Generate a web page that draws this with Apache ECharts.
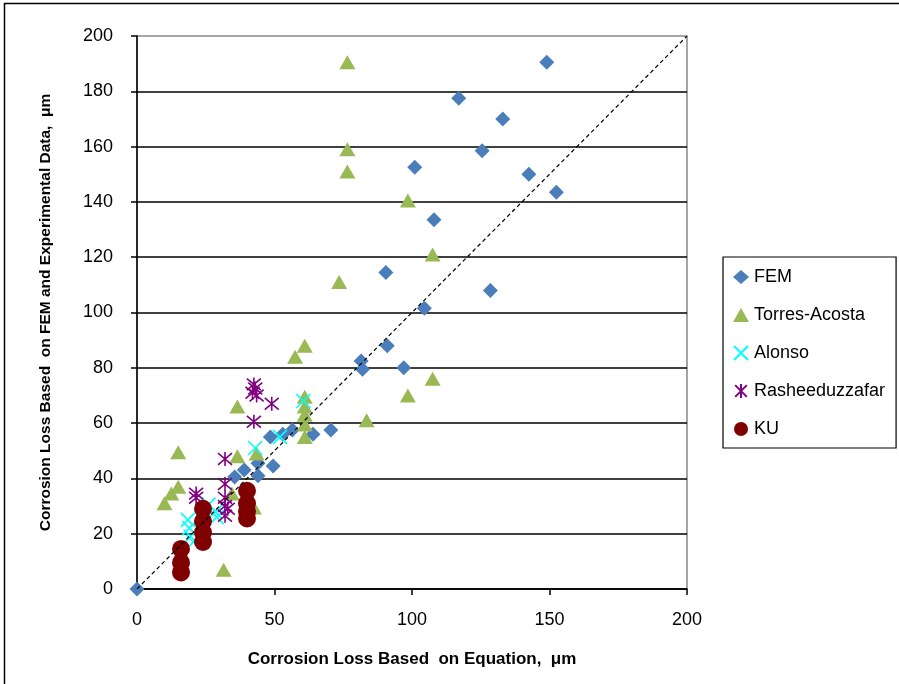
<!DOCTYPE html>
<html>
<head>
<meta charset="utf-8">
<script src="https://cdn.jsdelivr.net/npm/echarts@6/dist/echarts.min.js"></script>
<style>
html,body{margin:0;padding:0;background:#fff;}
#c{width:899px;height:684px;}
</style>
</head>
<body>
<div id="c"></div>
<script>
const seriesNames = ['FEM','Torres-Acosta','Alonso','Rasheeduzzafar','KU'];
const xTicks = [0,50,100,150,200];
const yTicks = [0,20,40,60,80,100,120,140,160,180,200];
const femData = [[0,0],[149,190.5],[117,177.5],[133,170],[125.5,158.5],[101,152.5],[142.5,150],[152.5,143.5],[108,133.5],[90.5,114.5],[128.5,108],[104.5,101.5],[91,88],[97,80],[81.5,82.5],[82,79.5],[70.5,57.5],[64,56],[56.5,57.5],[53,56],[48.5,55],[49.5,44.5],[44,45.5],[44,41],[39,43],[35.5,40.5]];
const torresData = [[76.5,190.5],[76.5,159],[76.5,151],[98.5,140.5],[107.5,121],[73.5,111],[107.5,76],[98.5,70],[83.5,61],[61,88],[57.5,84],[61,69.5],[61,66],[61,63],[61,59.5],[61,55],[36.5,66],[15,49.5],[15,37],[12.5,34.5],[10,31],[31.5,7],[36.5,48],[43.5,49],[42.5,29.5],[34.5,34.5]];
const alonsoData = [[18.5,25],[19,22],[19.5,19],[20.5,17],[26,30.5],[28.5,28],[29,26],[43,51],[52,55],[60.5,68]];
const rashData = [[42.5,74],[43,72.5],[42,71],[43.5,70],[49,67],[42.5,60.5],[32,47],[32,38],[32,33],[32,30],[33,29],[32,26.5],[21.5,34.5],[21.5,33]];
const kuData = [[16,14.5],[16,9.5],[16,6],[24,29],[24,24.5],[24,20.5],[24,17],[40,35.5],[40,31],[40,28],[40,25.5]];
const diagData = [[0,0],[200,200]];

const FONT = "'Liberation Sans','Arial',sans-serif";
const chart = echarts.init(document.getElementById('c'), null, {renderer:'canvas'});
const xPath = 'path://M0,0L10,10M10,0L0,10';
const starPath = 'path://M0,0L10,10M10,0L0,10M5,-1L5,11';
chart.setOption({
  animation:false,
  backgroundColor:'#fff',
  textStyle:{fontFamily:FONT},
  graphic:[{type:'rect',shape:{x:4.5,y:3.5,width:900,height:700},style:{fill:'none',stroke:'#000',lineWidth:1.5},z:-1}],
  grid:{left:137,right:212,top:36,bottom:95,show:true,borderColor:'#888',borderWidth:1.5,backgroundColor:'transparent'},
  legend:{
    orient:'vertical',left:723,top:257,
    data:seriesNames,
    itemWidth:16,itemHeight:14,itemGap:20,
    padding:[11,11,10,10],
    borderColor:'#000',borderWidth:1.2,
    textStyle:{fontFamily:FONT,fontSize:18,color:'#000'}
  },
  xAxis:{
    type:'value',min:xTicks[0],max:xTicks[xTicks.length-1],interval:50,
    name:'Corrosion Loss Based  on Equation,  μm',nameLocation:'middle',nameGap:62,
    nameTextStyle:{fontFamily:FONT,fontSize:17,fontWeight:'bold',color:'#000'},
    axisLine:{show:true,onZero:false,lineStyle:{color:'#000',width:1.5}},
    axisTick:{show:true,inside:false,length:6,lineStyle:{color:'#000',width:1.5}},
    axisLabel:{fontFamily:FONT,fontSize:18,color:'#000',margin:22},
    splitLine:{show:false}
  },
  yAxis:{
    type:'value',min:yTicks[0],max:yTicks[yTicks.length-1],interval:20,
    name:'Corrosion Loss Based  on FEM and Experimental Data,  μm',nameLocation:'middle',nameGap:83,
    nameTextStyle:{fontFamily:FONT,fontSize:15.5,fontWeight:'bold',color:'#000'},
    axisLine:{show:true,onZero:false,lineStyle:{color:'#000',width:1.5}},
    axisTick:{show:true,inside:false,length:6,lineStyle:{color:'#000',width:1.5}},
    axisLabel:{fontFamily:FONT,fontSize:18,color:'#000',margin:24},
    splitLine:{show:true,showMaxLine:false,lineStyle:{color:'#000',width:1.5}}
  },
  series:[
    {name:'FEM',type:'scatter',data:femData,symbol:'diamond',symbolSize:[15,15],itemStyle:{color:'#4A7EBB',opacity:1}},
    {name:'Torres-Acosta',type:'scatter',data:torresData,symbol:'triangle',symbolSize:[16,14],itemStyle:{color:'#98B954',opacity:1}},
    {name:'Alonso',type:'scatter',data:alonsoData,symbol:xPath,symbolSize:14,itemStyle:{color:'transparent',borderColor:'#00FFFF',borderWidth:1.6,opacity:1}},
    {name:'Rasheeduzzafar',type:'scatter',data:rashData,symbol:starPath,symbolSize:14,itemStyle:{color:'transparent',borderColor:'#800080',borderWidth:1.6,opacity:1}},
    {name:'diag',type:'line',data:diagData,showSymbol:false,symbol:'none',silent:true,lineStyle:{color:'#000',width:1.2,type:[4,3]}},
    {name:'KU',type:'scatter',data:kuData,symbol:'circle',symbolSize:18,itemStyle:{color:'#7F0000',opacity:1}}
  ]
});
</script>
</body>
</html>
